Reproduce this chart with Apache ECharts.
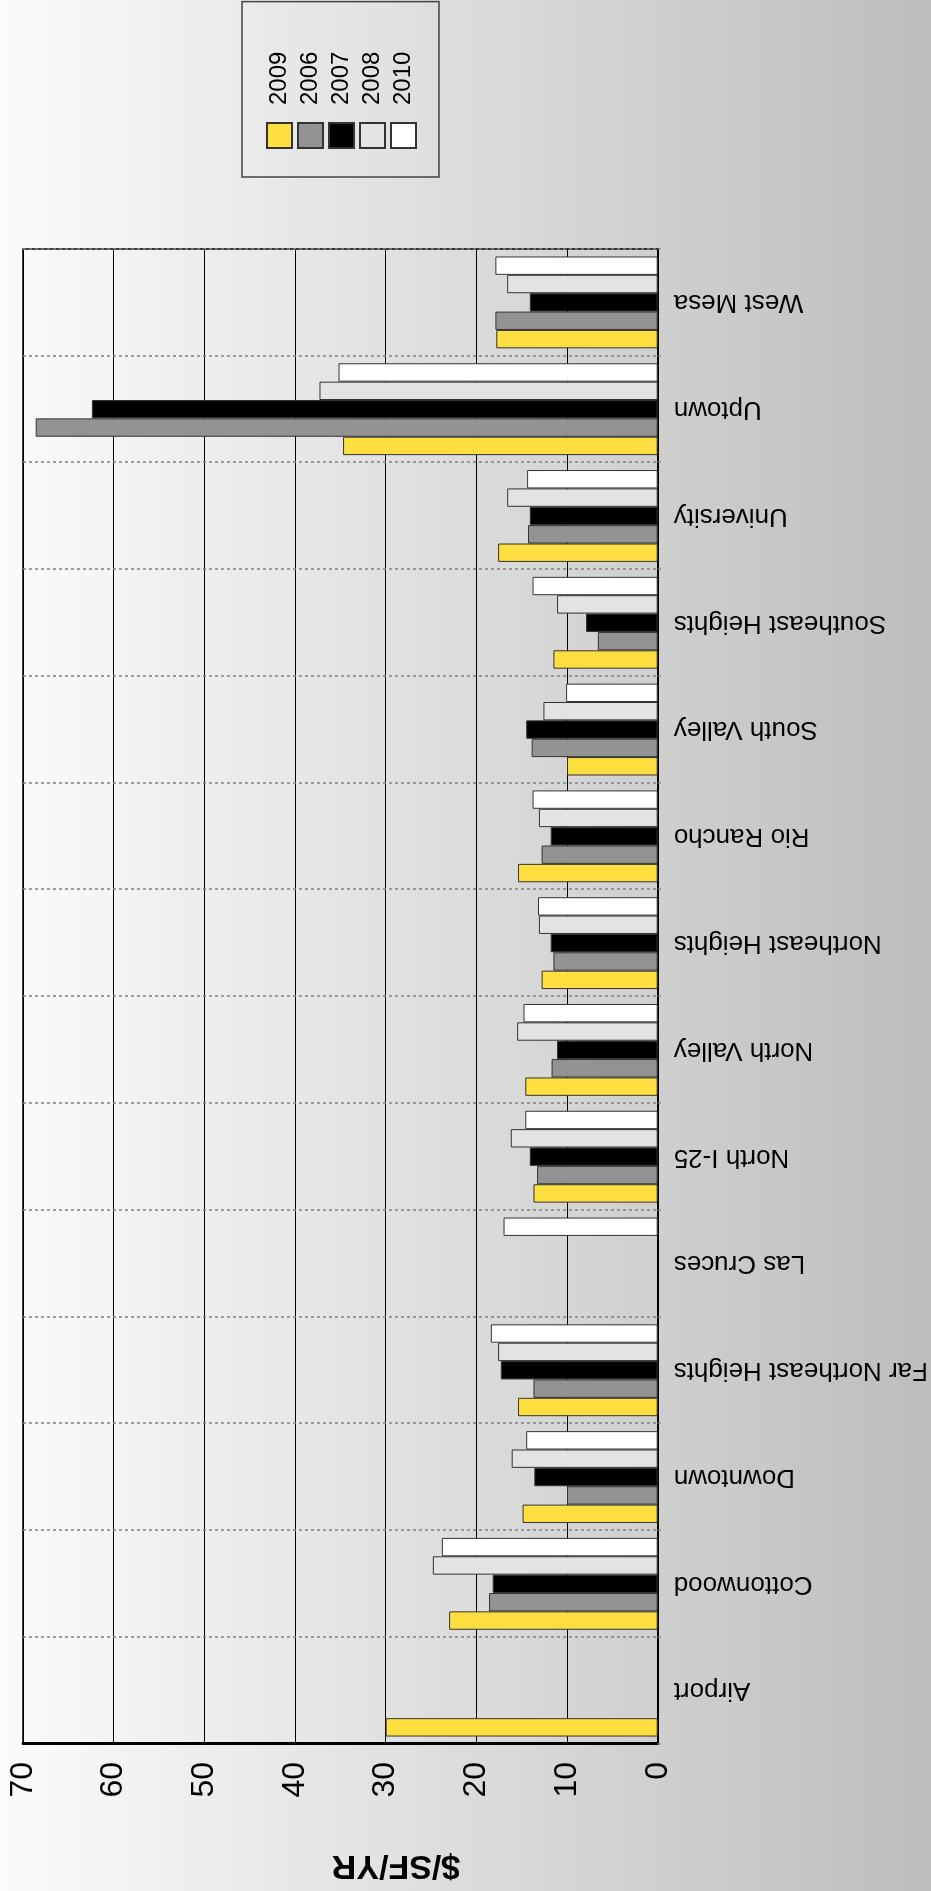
<!DOCTYPE html>
<html>
<head>
<meta charset="utf-8">
<script src="https://cdn.jsdelivr.net/npm/echarts@6/dist/echarts.min.js"></script>
<style>
html, body { margin: 0; padding: 0; width: 931px; height: 1891px; overflow: hidden; background: #dddddd; }
#chart { position: absolute; left: 0; top: 0; width: 1891px; height: 931px;
  transform-origin: 0 0; transform: translate(0px, 1891px) rotate(-90deg); }
</style>
</head>
<body>
<div id="chart"></div>
<script>
// ---- data ----
var categories = ['Airport', 'Cottonwood', 'Downtown', 'Far Northeast Heights', 'Las Cruces',
  'North I-25', 'North Valley', 'Northeast Heights', 'Rio Rancho', 'South Valley',
  'Southeast Heights', 'University', 'Uptown', 'West Mesa'];
var seriesNames = ['2009', '2006', '2007', '2008', '2010'];
var v2009 = [30.0, 23.0, 14.9, 15.4, null, 13.7, 14.6, 12.8, 15.4, 10.0, 11.5, 17.6, 34.7, 17.8];
var v2006 = [null, 18.6, 10.0, 13.7, null, 13.3, 11.7, 11.5, 12.8, 13.9, 6.6, 14.3, 68.6, 17.9];
var v2007 = [null, 18.2, 13.6, 17.3, null, 14.1, 11.1, 11.8, 11.8, 14.5, 7.9, 14.1, 62.4, 14.1];
var v2008 = [null, 24.8, 16.1, 17.6, null, 16.2, 15.5, 13.1, 13.1, 12.6, 11.1, 16.6, 37.3, 16.6];
var v2010 = [null, 23.8, 14.5, 18.4, 17.0, 14.6, 14.8, 13.2, 13.8, 10.1, 13.8, 14.4, 35.2, 17.9];
var seriesValues = [v2009, v2006, v2007, v2008, v2010];
var seriesColors = ['#FFDF40', '#939393', '#000000', '#E3E3E3', '#FFFFFF'];
var valueTicks = { min: 0, max: 70, interval: 10 };
var axisTitle = '$/SF/YR';

var FONT = '"Liberation Sans", Arial, sans-serif';
var chart = echarts.init(document.getElementById('chart'), null, { renderer: 'canvas' });

var series = seriesNames.map(function (name, i) {
  return {
    name: name,
    type: 'bar',
    data: seriesValues[i],
    barGap: '0%',
    barCategoryGap: '14%',
    itemStyle: { color: seriesColors[i], borderColor: '#333333', borderWidth: 1 },
    emphasis: { disabled: true },
    animation: false
  };
});

chart.setOption({
  animation: false,
  backgroundColor: {
    type: 'linear', x: 0, y: 0, x2: 0, y2: 1,
    colorStops: [{ offset: 0, color: '#fbfbfb' }, { offset: 1, color: '#bdbdbd' }]
  },
  textStyle: { fontFamily: FONT },
  grid: {
    left: 147, right: 249, top: 23, bottom: 272,
    show: true, borderColor: '#000', borderWidth: 1.5, backgroundColor: 'transparent'
  },
  legend: {
    data: seriesNames,
    orient: 'vertical',
    left: 1714, top: 242,
    padding: [24, 50, 22, 28],
    itemWidth: 25, itemHeight: 25, itemGap: 4,
    icon: 'rect',
    borderColor: '#444', borderWidth: 1.5,
    textStyle: { fontFamily: FONT, fontSize: 24, color: '#000', padding: [0, 0, 0, 13] }
  },
  graphic: [{
    type: 'text', x: 26, y: 396, rotation: Math.PI / 2,
    style: { text: axisTitle, font: 'bold 34px ' + FONT, fill: '#000',
      textAlign: 'center', textVerticalAlign: 'middle' }
  }],
  xAxis: {
    type: 'category',
    data: categories,
    axisLine: { show: true, lineStyle: { color: '#000', width: 2 } },
    axisTick: { show: true, length: 6, lineStyle: { color: '#808080', type: [3, 3], width: 1.5 } },
    axisLabel: { rotate: 90, interval: 0, fontSize: 26, color: '#000', margin: 16, fontFamily: FONT },
    splitLine: { show: true, lineStyle: { color: '#808080', type: [3, 3], width: 1.5 } }
  },
  yAxis: {
    type: 'value',
    min: valueTicks.min, max: valueTicks.max, interval: valueTicks.interval,
    axisLine: { show: true, lineStyle: { color: '#000', width: 3 } },
    axisTick: { show: false },
    axisLabel: { fontSize: 32, color: '#000', margin: 18, fontFamily: FONT },
    splitLine: { show: true, lineStyle: { color: '#000', width: 1.2 } }
  },
  series: series
});
</script>
</body>
</html>
